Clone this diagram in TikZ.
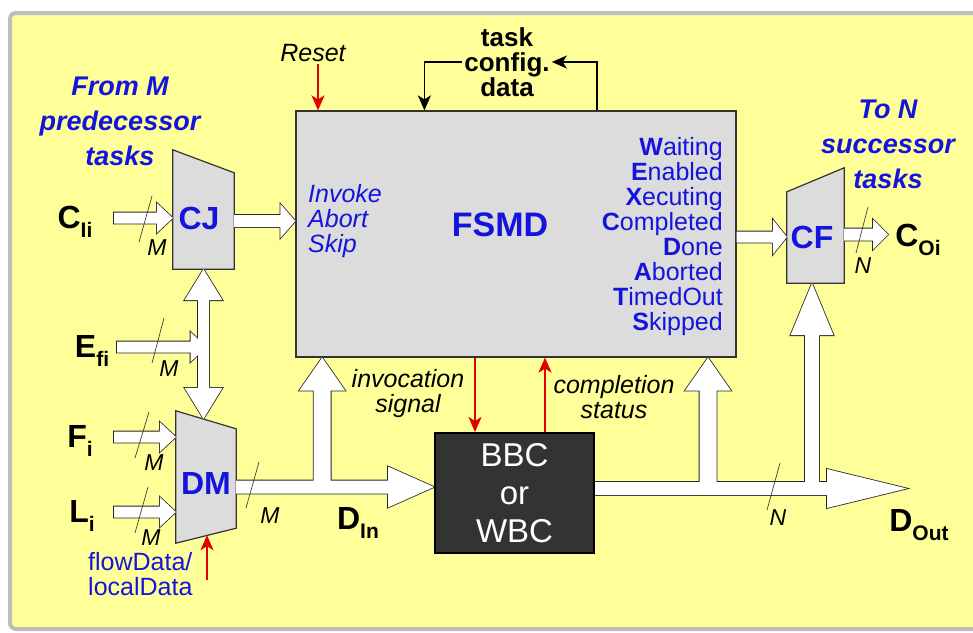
\documentclass[tikz,border=0pt]{standalone}
\usepackage{fontspec}
\setmainfont{Liberation Sans}
\usepackage{tikz}
\usetikzlibrary{arrows.meta,positioning,calc}
\definecolor{paper}{HTML}{FFFF99}
\definecolor{frame}{HTML}{BDBDBD}
\definecolor{boxgray}{HTML}{DCDCDC}
\definecolor{ink}{HTML}{1414DC}
\definecolor{alarm}{HTML}{E00000}
\definecolor{dark}{HTML}{333333}
\pgfdeclarelayer{back}
\pgfdeclarelayer{outline}
\pgfsetlayers{back,outline,main}

% hollow bus arrow: outline on its own layer, so joined arrows merge
\newcommand\fatarrow[3]{%
  \begin{pgfonlayer}{outline}
    \draw[black!85,line width=1.6pt,line join=miter] #2 to[#1] #3;
  \end{pgfonlayer}
  \fill[white] #2 to[#1] #3;}
\newcommand\busidx[1]{\raisebox{-9pt}{\fontsize{21}{21}\selectfont #1}}

\tikzset{
  fat/.style n args={3}{to path={
    let \n1={veclen(#3,#1)}, \n2={atan2(#1,#3)},
        \n3={veclen(#3,#2)}, \n4={atan2(#2,#3)} in
    -- ($(\tikztostart)!#1!90:(\tikztotarget)$)
    -- ($(\tikztotarget)!\n1!-\n2:(\tikztostart)$)
    -- ($(\tikztotarget)!\n3!-\n4:(\tikztostart)$)
    -- (\tikztotarget)
    -- ($(\tikztotarget)!\n3!\n4:(\tikztostart)$)
    -- ($(\tikztotarget)!\n1!\n2:(\tikztostart)$)
    -- ($(\tikztostart)!#1!-90:(\tikztotarget)$)
    -- cycle}},
  busin/.style={fat={5.5pt}{15pt}{16pt}},
  busmid/.style={fat={6pt}{17pt}{15pt}},
  busvert/.style={fat={5.5pt}{19pt}{31pt}},
  busbig/.style={fat={6.5pt}{20.5pt}{46pt}},
  busout/.style={fat={6.5pt}{19.5pt}{80pt}},
  busup/.style={fat={8.5pt}{23pt}{33pt}},
  buscf/.style={fat={7pt}{21.5pt}{52pt}}
}

\begin{document}
\begin{tikzpicture}[x=1pt,y=-1pt,
  every node/.style={inner sep=2pt},
  fsmdbox/.style={draw=dark,line width=1.2pt,fill=boxgray,minimum width=440pt,minimum height=246pt},
  mux/.style 2 args={minimum width=#1,minimum height=#2},
  muxbody/.style={draw=dark,line width=1.2pt,fill=boxgray,line join=miter},
  muxtext/.style={text=ink,font=\fontsize{32}{32}\selectfont\bfseries},
  bbcbox/.style={draw=black,line width=2pt,fill=dark,text=white,minimum width=159pt,minimum height=120pt,align=center,font=\fontsize{33}{38}\selectfont},
  sig/.style={font=\fontsize{32}{32}\selectfont\bfseries},
  buslabel/.style={font=\fontsize{23}{23}\selectfont\itshape},
  slash/.style={line width=0.7pt,black!75},
  tasks/.style={text=ink,align=center,font=\fontsize{27}{35}\selectfont\bfseries\itshape},
  note/.style={align=center,font=\fontsize{25}{25}\selectfont\itshape},
  statelist/.style={text=ink,align=right,font=\fontsize{25}{25}\selectfont},
  ctrllist/.style={text=ink,align=left,font=\fontsize{25}{25}\selectfont\itshape},
  sigline/.style={alarm,line width=2pt,-{Stealth[length=15pt,width=13pt,inset=4pt]}},
  cfgline/.style={black,line width=1.8pt,-{Stealth[length=15pt,width=13pt,inset=4pt]}}
]
\useasboundingbox (0,0) rectangle (973,632);
\begin{pgfonlayer}{back}
  \fill[white] (0,0) rectangle (973,632);
  \draw[frame,line width=4pt,fill=paper,rounded corners=6pt] (10,13) rectangle (1010,629);
\end{pgfonlayer}

% blocks
\node[fsmdbox] (fsmd) at (516,234) {};
\node[mux={61pt}{119pt}] (cj) at (203.5,209.5) {};
\draw[muxbody] (cj.north west) -- ($(cj.north east)+(0,23)$) -- (cj.south east) -- (cj.south west) -- cycle;
\node[muxtext] (cjname) at (199,218) {CJ};
\node[mux={60pt}{132pt}] (dm) at (206,477) {};
\draw[muxbody] (dm.north west) -- ($(dm.north east)+(0,18)$) -- ($(dm.south east)+(0,-15)$) -- (dm.south west) -- cycle;
\node[muxtext] (dmname) at (206,483) {DM};
\node[mux={57pt}{115pt}] (cf) at (815.5,225.5) {};
\draw[muxbody] ($(cf.north west)+(0,24)$) -- (cf.north east) -- (cf.south east) -- (cf.south west) -- cycle;
\node[muxtext] (cfname) at (812,237) {CF};
\node[bbcbox] (bbc) at (514.5,493) {BBC\\or\\WBC};

% texts
\node[tasks] (from) at (120,121) {From M\\predecessor\\tasks};
\node[tasks] (to) at (888,144) {To N\\successor\\tasks};
\node[note] (reset) at (313,53) {Reset};
\node[ctrllist,anchor=west] (ctrl) at (306,221) {Invoke\\Abort\\Skip};
\node[statelist,anchor=east] (states) at (725,237) {\textbf{W}aiting\\\textbf{E}nabled\\\textbf{X}ecuting\\\textbf{C}ompleted\\\textbf{D}one\\\textbf{A}borted\\\textbf{T}imedOut\\\textbf{S}kipped};
\node[muxtext,font=\fontsize{34}{34}\selectfont\bfseries] (fsmdname) at (500,225) {FSMD};
\node[note] (invlabel) at (408,394) {invocation\\signal};
\node[note] (cmplabel) at (614,397) {completion\\status};
\node[statelist,align=left,anchor=west] (seltext) at (86,574) {flowData/\\localData};
\node[align=center,font=\fontsize{26}{25}\selectfont\bfseries] (cfg) at (507,62) {task\\config.\\data};

\node[sig] (cil) at (75,222) {C\busidx{Ii}};
\node[sig] (efl) at (92,351) {E\busidx{fi}};
\node[sig] (fil) at (80,441) {F\busidx{i}};
\node[sig] (lil) at (82,516) {L\busidx{i}};
\node[sig] (dinl) at (358,523) {D\busidx{In}};
\node[sig] (coil) at (918,240) {C\busidx{Oi}};
\node[sig] (doutl) at (919,525) {D\busidx{Out}};

% bus arrows
\coordinate (ci) at (114,218);
\coordinate (ei) at (117,347);
\coordinate (fi) at (114,437);
\coordinate (li) at (114,512);
\coordinate (cjout) at ($(cj.east)+(0,11.5)$);
\coordinate (dmtop) at ($(cj.south |- dm.north)+(0,8)$);
\coordinate (cjdm) at ($(cj.south)!0.5!(dmtop)$);
\coordinate (din) at ($(dm.east)+(0,10)$);
\coordinate (dinup) at ($(din)+(86,0)$);
\coordinate (dout) at ($(bbc.east)+(0,-4.5)$);
\coordinate (doutend) at (907,488.5);
\coordinate (doutup) at (708,488.5);
\coordinate (cfup) at (812,488.5);
\coordinate (stout) at ($(fsmd.east)+(0,3)$);
\coordinate (cfout) at ($(cf.east)+(0,9)$);
\coordinate (coi) at (888,234.5);

\fatarrow{busin}{(ci)}{(ci -| cj.west)}
\fatarrow{busmid}{(cjout)}{(cjout -| fsmd.west)}
\fatarrow{busin}{(ei)}{($(ei -| cj.south)+(3,0)$)}
\fatarrow{busvert}{(cjdm)}{(cj.south)}
\fatarrow{busvert}{(cjdm)}{(dmtop)}
\fatarrow{busin}{(fi)}{(fi -| dm.west)}
\fatarrow{busin}{(li)}{(li -| dm.west)}
\fatarrow{busbig}{(din)}{(din -| bbc.west)}
\fatarrow{busup}{(dinup)}{(dinup |- fsmd.south)}
\fatarrow{busout}{(dout)}{(doutend)}
\fatarrow{busup}{(doutup)}{(doutup |- fsmd.south)}
\fatarrow{buscf}{(cfup)}{(cfup |- cf.south)}
\fatarrow{fat={5.5pt}{17.5pt}{14pt}}{(stout)}{(stout -| cf.west)}
\fatarrow{fat={6pt}{15pt}{15pt}}{(cfout)}{(coi)}

% bus widths
\draw[slash] (152,196) -- (139,242);
\node[buslabel] (mci) at (157,248) {M};
\draw[slash] (164,318) -- (152,363);
\node[buslabel] (mei) at (169,369) {M};
\draw[slash] (149,412) -- (135,458);
\node[buslabel] (mfi) at (154,463) {M};
\draw[slash] (148,487) -- (135,533);
\node[buslabel] (mli) at (151,538) {M};
\draw[slash] (259,462) -- (246,508);
\node[buslabel] (mdin) at (270,516) {M};
\draw[slash] (868,207) -- (856,253);
\node[buslabel] (ncoi) at (863,266) {N};
\draw[slash] (780,463) -- (767,510);
\node[buslabel] (ndout) at (778,518) {N};

% control signals
\draw[sigline] ([xshift=5pt]reset.south) -- ([xshift=5pt]reset.south |- fsmd.north);
\coordinate (inv) at ($(bbc.north west)+(41,0)$);
\coordinate (cmp) at ($(bbc.north west)+(111,0)$);
\draw[sigline] (inv |- fsmd.south) -- (inv);
\draw[sigline] (cmp) -- (cmp |- fsmd.south);
\coordinate (sel) at (207,580);
\coordinate (dmsel) at ($(dm.south)+(1,-8)$);
\draw[sigline] (sel) -- (dmsel);
\draw[cfgline] (cfg.west) -| ($(fsmd.north west)+(129,0)$);
\draw[cfgline] ($(fsmd.north east)+(-140,0)$) |- (cfg.east);
\end{tikzpicture}
\end{document}
